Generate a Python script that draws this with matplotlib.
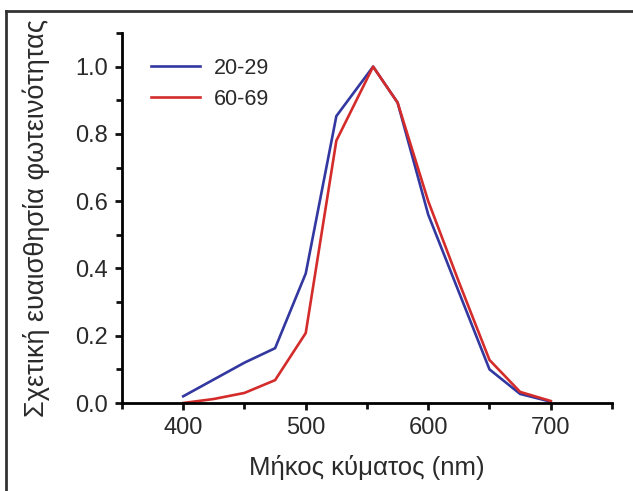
import matplotlib.pyplot as plt
from matplotlib.lines import Line2D
from matplotlib.ticker import MultipleLocator

plt.rcParams["font.family"] = ["Liberation Sans", "DejaVu Sans"]

# wavelength (nm) and relative luminous sensitivity for two age groups
wl = [400, 425, 450, 475, 500, 525, 555, 575, 600, 625, 650, 675, 700]
young = [0.02, 0.07, 0.12, 0.163, 0.385, 0.853, 1.0, 0.893, 0.56, 0.33, 0.10, 0.027, 0.004]
old = [0.0, 0.012, 0.03, 0.068, 0.208, 0.78, 1.0, 0.893, 0.60, 0.36, 0.128, 0.033, 0.006]
labels = ["20-29", "60-69"]

fig = plt.figure(figsize=(6.33, 4.91), dpi=100)
ax = fig.add_axes([0.1927, 0.1792, 0.7741, 0.7536])

ax.plot(wl, young, color="#3338a0", linewidth=1.9, label=labels[0])
ax.plot(wl, old, color="#d42b2b", linewidth=1.9, label=labels[1])

ax.set_xlim(350, 750)
ax.set_ylim(0, 1.1)
ax.xaxis.set_minor_locator(MultipleLocator(50))
ax.yaxis.set_minor_locator(MultipleLocator(0.1))
ax.set_xticks([400, 500, 600, 700])
ax.set_yticks([0, 0.2, 0.4, 0.6, 0.8, 1.0])
ax.set_yticklabels(["0.0", "0.2", "0.4", "0.6", "0.8", "1.0"])

for side in ["top", "right"]:
    ax.spines[side].set_visible(False)
for side in ["left", "bottom"]:
    ax.spines[side].set_linewidth(2.0)
ax.tick_params(which="major", length=5, width=2.0, labelsize=17, colors="#111111", pad=5)
ax.tick_params(which="minor", length=4, width=2.0, colors="#111111")
ax.tick_params(axis="both", labelcolor="#2a2a2a")

ax.set_xlabel("Μήκος κύματος (nm)", fontsize=18.5, color="#2a2a2a")
ax.set_ylabel("Σχετική ευαισθησία φωτεινότητας", fontsize=19.5, color="#2a2a2a")
ax.xaxis.set_label_coords(0.5, -0.14)
ax.yaxis.set_label_coords(-0.147, 0.5)

ax.legend(loc="upper left", bbox_to_anchor=(0.02, 0.985), frameon=False, fontsize=15.5,
          handlelength=2.28, handletextpad=0.65, labelspacing=0.45, labelcolor="#2a2a2a")

# thin frame along the top and left edges of the image
fig.add_artist(Line2D([0.0095, 1.0], [0.9766, 0.9766], transform=fig.transFigure,
                      color="#333333", linewidth=2.0))
fig.add_artist(Line2D([0.0095, 0.0095], [0.0, 0.9766], transform=fig.transFigure,
                      color="#333333", linewidth=2.0))

fig.savefig("out.png", dpi=100)
